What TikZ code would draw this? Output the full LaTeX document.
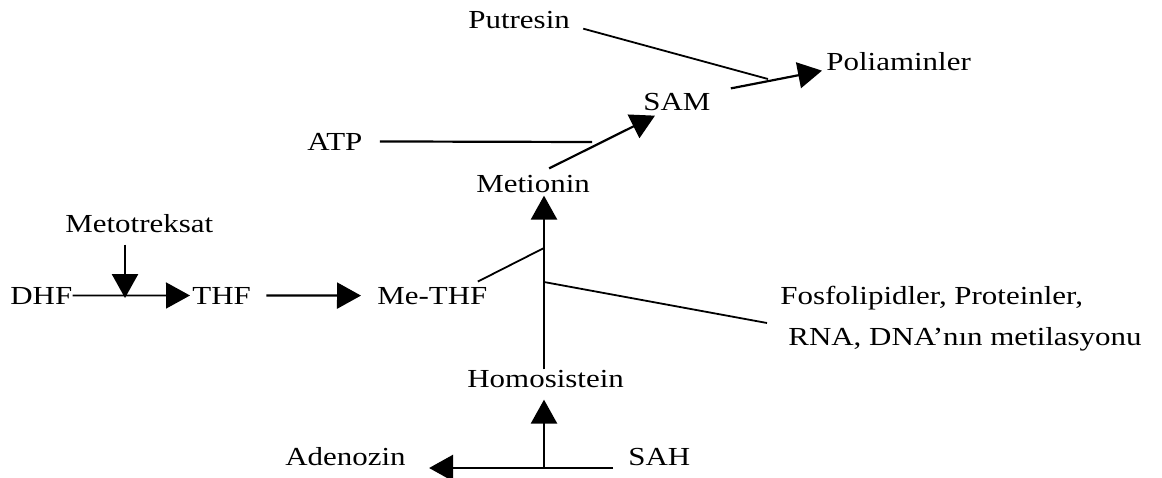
\documentclass[tikz,border=0pt]{standalone}
\usepackage{fontspec}
\setmainfont{Liberation Serif}[FakeStretch=1.19]
\usetikzlibrary{arrows.meta}
\begin{document}
\begin{tikzpicture}[x=0.5pt,y=-0.5pt,
  lbl/.style={anchor=base west,inner sep=0pt,font=\fontsize{13}{15}\selectfont},
  thinline/.style={line width=0.9pt},
  flow/.style={-{Triangle[length=12pt,width=13pt]},line width=1.3pt}]

\useasboundingbox (0,0) rectangle (1162,477);

% Labels
\node[lbl] (putresin) at (468,28) {Putresin};
\node[lbl] (poliamin) at (826,70) {Poliaminler};
\node[lbl] (sam) at (643,110) {SAM};
\node[lbl] (atp) at (307,150) {ATP};
\node[lbl] (metionin) at (476,192) {Metionin};
\node[lbl] (metotreksat) at (65,232) {Metotreksat};
\node[lbl] (dhf) at (10,304) {DHF};
\node[lbl] (thf) at (192,304) {THF};
\node[lbl] (methf) at (377,304) {Me-THF};
\node[lbl] (fosfo) at (780,304) {Fosfolipidler, Proteinler,};
\node[lbl] (rna) at (788,345) {RNA, DNA’nın metilasyonu};
\node[lbl] (homosistein) at (467,387) {Homosistein};
\node[lbl] (adenozin) at (285,465) {Adenozin};
\node[lbl] (sah) at (628,465) {SAH};

% Junctions
\coordinate (jput) at (768,79);
\coordinate (jatp) at (592,142);
\coordinate (jinhib) at (125,298);
\coordinate (jmethf) at (544,248);
\coordinate (jmetil) at (544,282);
\coordinate (jmetilend) at (767,323);
\coordinate (jsah) at (544,468);

% Polyamine branch
\draw[thinline] ([xshift=6.5pt]putresin.south east) -- (jput);
\draw[flow,line width=1.1pt] ([xshift=10pt,yshift=2pt]sam.north east) -- ([xshift=-2pt]poliamin.south west);

% Methionine to SAM
\draw[flow,line width=1.1pt] ([xshift=8pt,yshift=3pt]metionin.north) -- ([xshift=6pt,yshift=-2.5pt]sam.south west);
\draw[thinline,line width=1.1pt,shorten <=8.5pt] (atp.east) -- (jatp);

% Folate cycle
\draw[flow,line width=0.8pt,shorten >=1pt] (dhf.east) -- (thf.west);
\draw[flow,shorten <=6pt] (metotreksat.south -| jinhib) -- (jinhib);
\draw[flow,line width=1.1pt,shorten <=7.5pt,shorten >=8pt] (thf.east) -- (methf.west);

% Methyl transfer
\draw[thinline] ([xshift=-5pt,yshift=2.5pt]methf.north east) -- (jmethf);
\draw[flow,shorten >=1.5pt] (jmetil |- homosistein.north) -- (jmetil |- metionin.south);
\draw[thinline] (jmetil) -- (jmetilend);

% SAH cleavage
\draw[flow,shorten <=7.5pt,shorten >=11.5pt] (sah.west |- jsah) -- (adenozin.east |- jsah);
\draw[flow,shorten >=6pt] (jsah) -- (jsah |- homosistein.south);

\end{tikzpicture}
\end{document}
